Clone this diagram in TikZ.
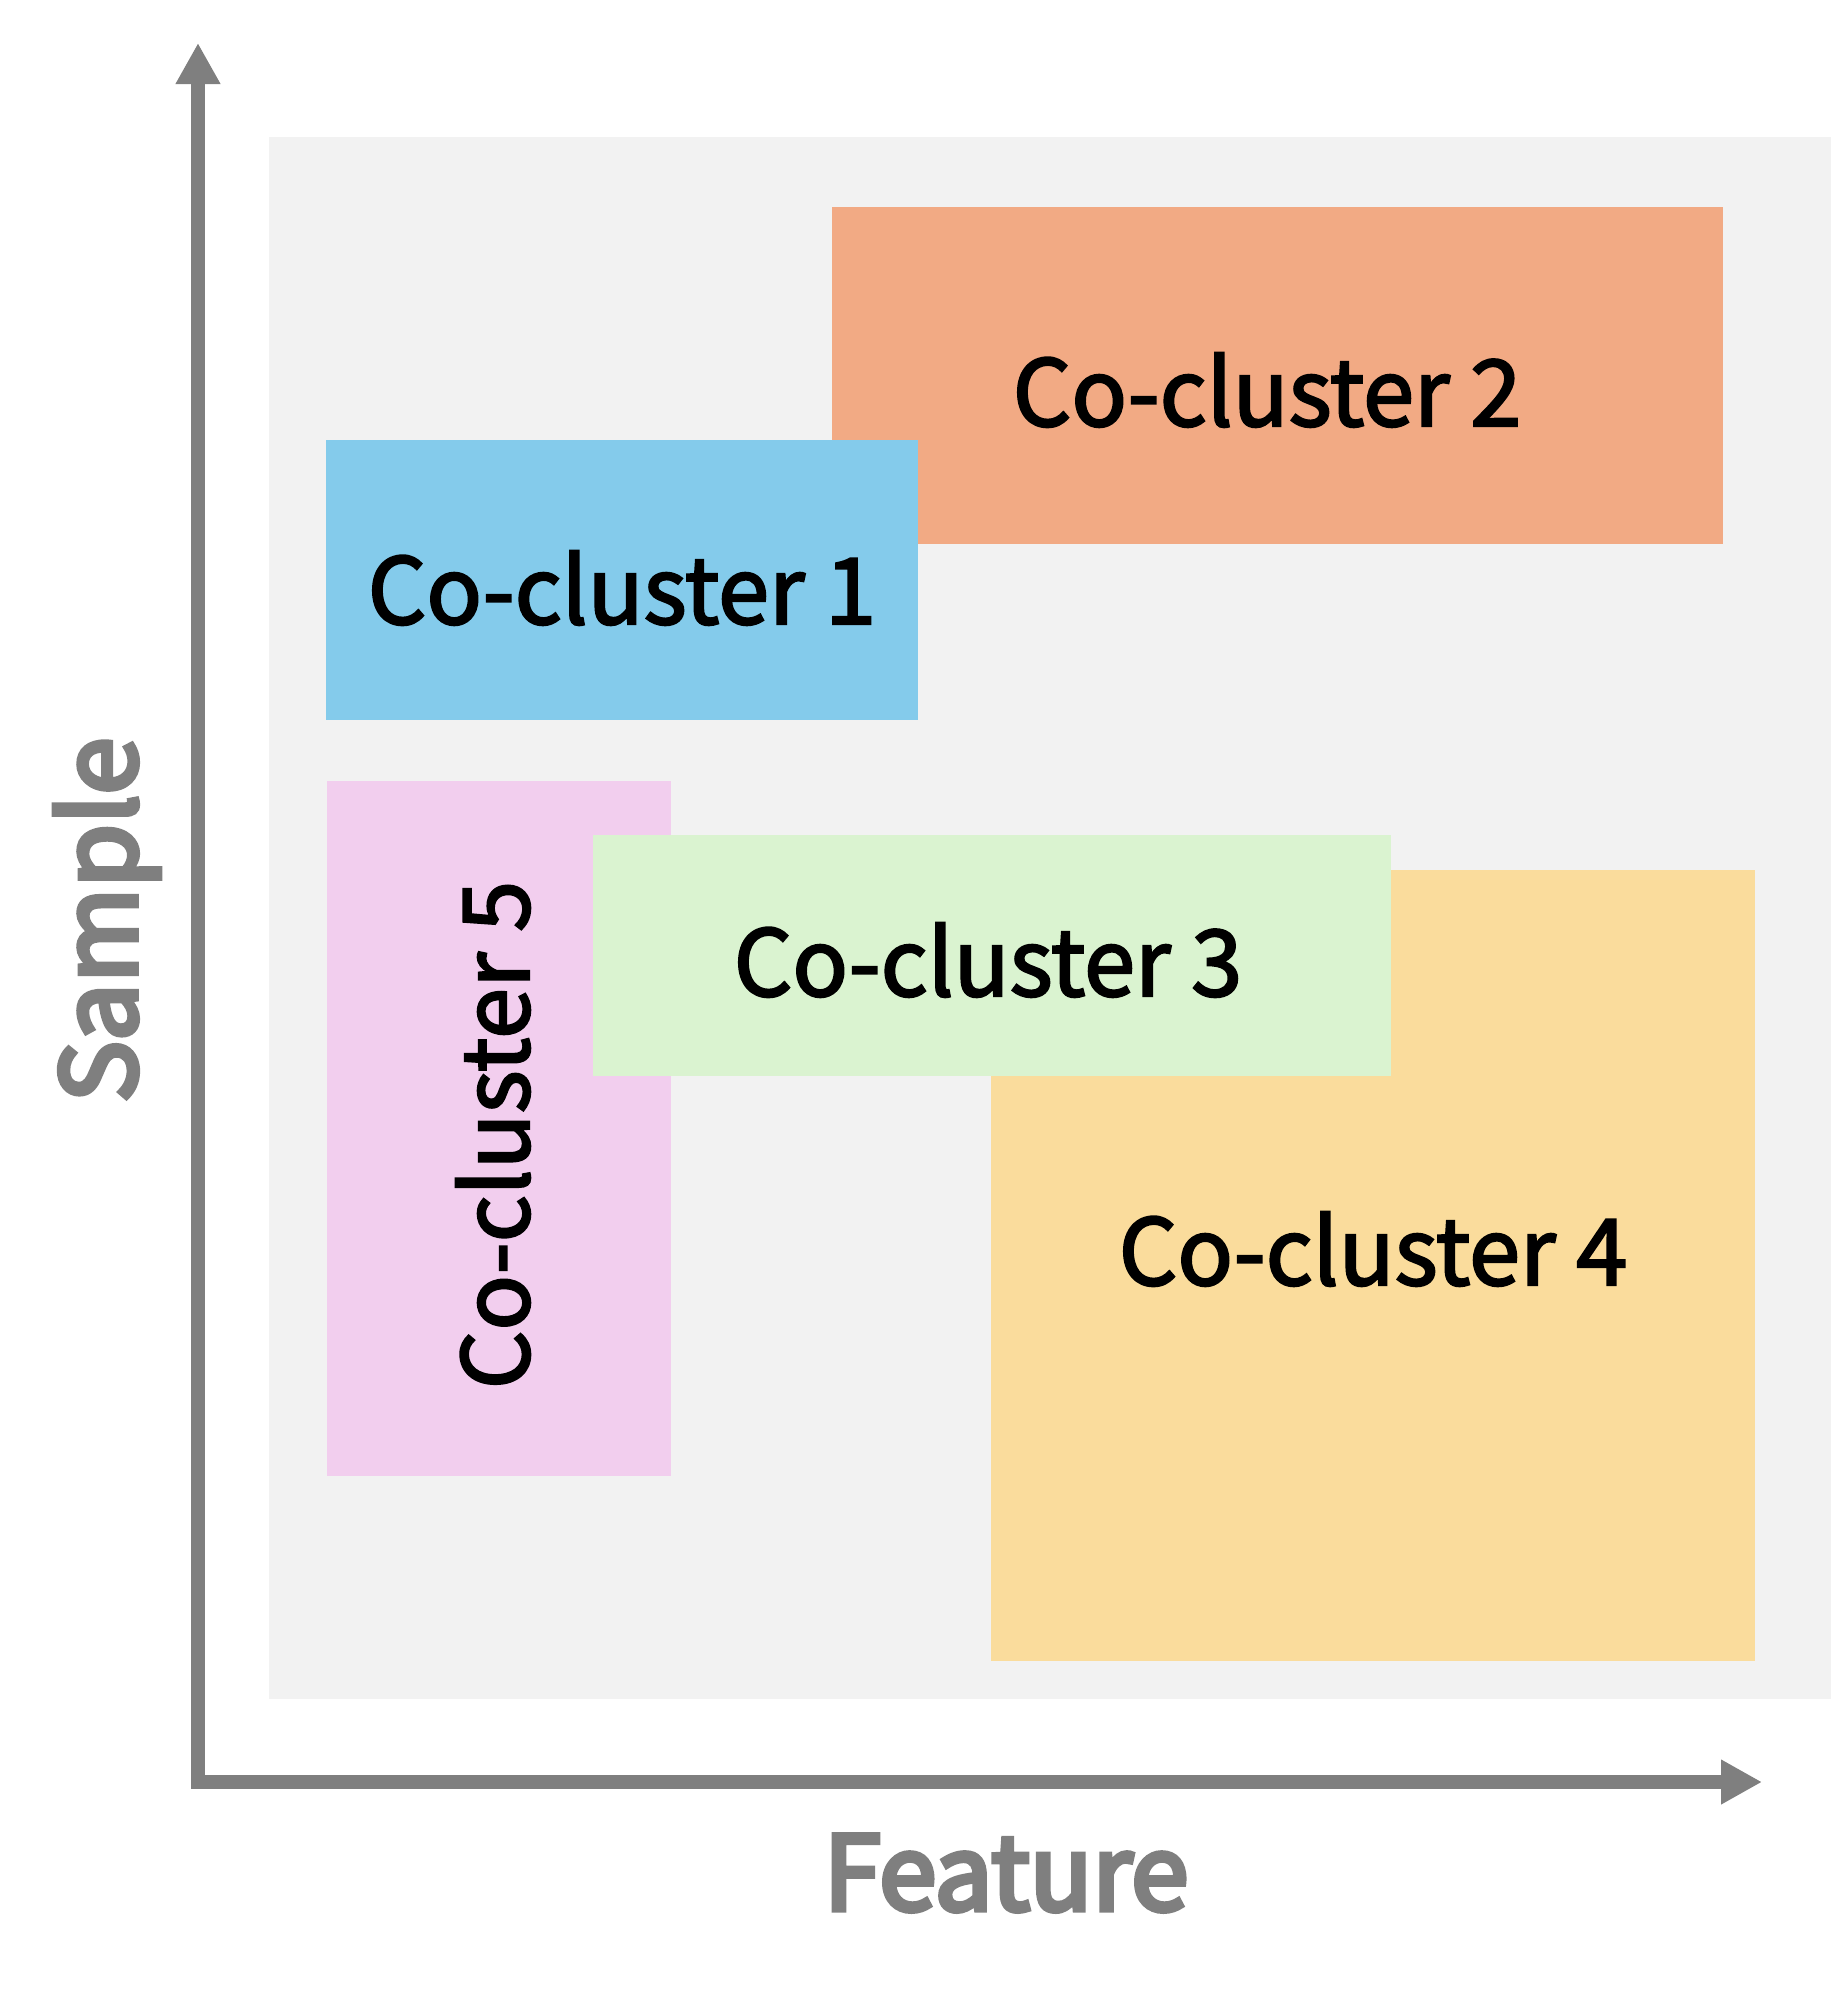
\documentclass[tikz,border=0pt]{standalone}
\usepackage{fontspec}
\newfontfamily\cjk[FakeBold=2.4]{Noto Sans CJK SC}
\newfontfamily\cjkax[FakeBold=5]{Noto Sans CJK SC}
\usetikzlibrary{arrows.meta}
\definecolor{bggray}{HTML}{F2F2F2}
\definecolor{axisgray}{HTML}{7F7F7F}
\definecolor{corange}{HTML}{F2AA84}
\definecolor{cblue}{HTML}{84CBEB}
\definecolor{cpink}{HTML}{F2CEEE}
\definecolor{cgreen}{HTML}{DAF3D0}
\definecolor{cyellow}{HTML}{FADC9C}
\tikzset{
  box/.style={draw=none, inner sep=0pt, anchor=north west, outer sep=0pt},
  clabel/.style={font=\cjk\fontsize{92}{100}\selectfont, text=black, inner sep=0pt},
  axlabel/.style={font=\cjkax\fontsize{103}{120}\selectfont, text=axisgray, inner sep=0pt},
  axis/.style={draw=axisgray, line width=14pt, line join=miter,
    arrows={Triangle[width=42pt,length=41pt]-Triangle[width=42pt,length=41pt]}}
}
\begin{document}
\begin{tikzpicture}[x=1pt,y=-1pt]
\useasboundingbox (0,0) rectangle (1831,2002);
\node[box, fill=bggray, minimum width=1562pt, minimum height=1562pt] (bg) at (269,137) {};
\node[box, fill=corange, minimum width=891pt, minimum height=337pt] (c2) at (832,207) {};
\node[box, fill=cblue, minimum width=592pt, minimum height=280pt] (c1) at (326,440) {};
\node[box, fill=cpink, minimum width=344pt, minimum height=695pt] (c5) at (327,781) {};
\node[box, fill=cyellow, minimum width=764pt, minimum height=791pt] (c4) at (991,870) {};
\node[box, fill=cgreen, minimum width=798pt, minimum height=241pt] (c3) at (593,835) {};
\node[clabel] (t2) at (1267,390) {Co-cluster 2};
\node[clabel] (t1) at (622,588) {Co-cluster 1};
\node[clabel] (t3) at (988,960) {Co-cluster 3};
\node[clabel] (t4) at (1373,1249) {Co-cluster 4};
\node[clabel, rotate=90] (t5) at (493,1135) {Co-cluster 5};
\coordinate (ytip) at (198,43);
\coordinate (xtip) at (1762,1782);
\draw[axis] (ytip) |- (xtip);
\node[axlabel, rotate=90] (ylab) at (107,920) {Sample};
\node[axlabel] (xlab) at (1006,1873) {Feature};
\end{tikzpicture}
\end{document}
